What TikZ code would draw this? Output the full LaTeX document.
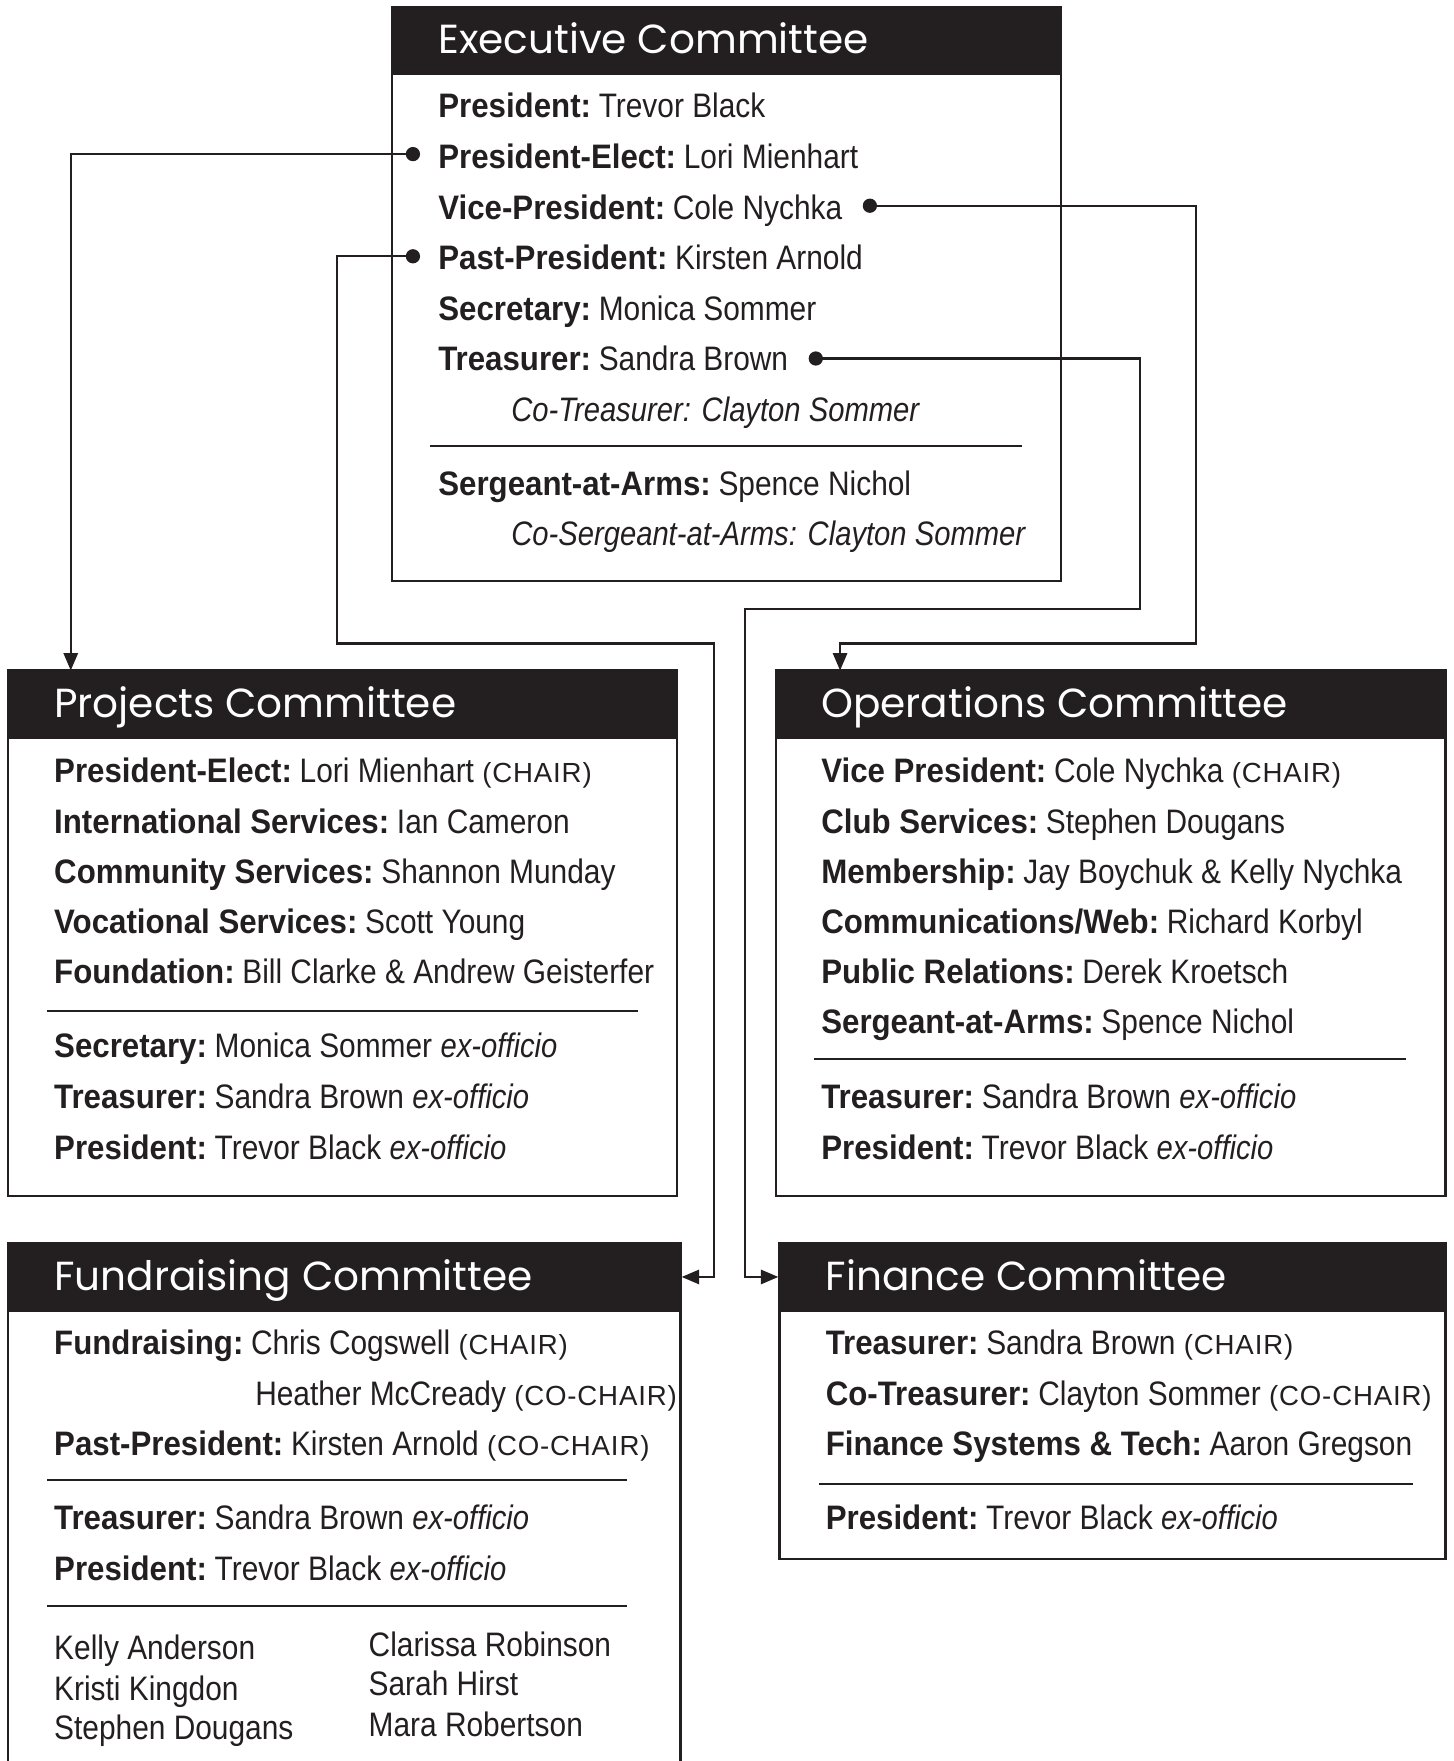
\documentclass[tikz,border=0pt]{standalone}
\usepackage{fontspec}
\setmainfont[FakeStretch=0.88, BoldFeatures={FakeStretch=0.92}, ItalicFeatures={FakeStretch=0.86}]{Liberation Sans}
\newfontfamily\headfont{Poppins}
\newfontfamily\capfont[LetterSpace=3]{Liberation Sans}
\usetikzlibrary{positioning, fit, arrows.meta}
\definecolor{ink}{RGB}{35,31,32}
\newcommand{\rl}[1]{\textbf{#1}\kern-0.1em\relax}
\newcommand{\chair}[1]{{\capfont\fontsize{17.5}{20}\selectfont(#1)}}
\newcommand{\exo}{\textit{ex-officio}}

\tikzset{
	panel/.style={draw=ink, line width=1.4pt, inner sep=0pt},
	headband/.style={fill=ink, draw=ink, line width=1.4pt, inner sep=0pt},
	boxtitle/.style={anchor=base west, inner sep=0pt, text=white, font=\headfont\fontsize{25.7}{30}\selectfont},
	member/.style={anchor=base west, inner sep=0pt, text=ink, font=\fontsize{21.5}{24}\selectfont},
	divider/.style={draw=ink, line width=1.4pt},
	conn/.style={draw=ink, line width=1.4pt, {Circle[length=9pt]}-{Triangle[length=11pt, width=9pt]}},
}

\begin{document}
\begin{tikzpicture}[x=0.025cm, y=-0.025cm]
	\useasboundingbox (0,0) rectangle (1294,1568);

	% Executive
	\node[panel, fit={(349,6) (945,517)}] (exec) {};
	\node[headband, fit={(349,6) (945,66)}] (exechead) {};
	\node[boxtitle] (exectitle) at (390,48) {Executive Committee};
	\foreach \n/\y/\t in {pres/105/{\rl{President:} Trevor Black},
		pe/150/{\rl{President-Elect:} Lori Mienhart},
		vp/195/{\rl{Vice-President:} Cole Nychka},
		pp/240/{\rl{Past-President:} Kirsten Arnold},
		sec/285/{\rl{Secretary:} Monica Sommer},
		tr/330/{\rl{Treasurer:} Sandra Brown},
		saa/441/{\rl{Sergeant-at-Arms:} Spence Nichol}}
		\node[member] (\n) at (390,\y) {\t};
	\node[member, font=\fontsize{21.5}{24}\selectfont\itshape] (cotr) at (455,375) {Co-Treasurer: Clayton Sommer};
	\node[member, font=\fontsize{21.5}{24}\selectfont\itshape] (cosaa) at (455,486) {Co-Sergeant-at-Arms: Clayton Sommer};
	\draw[divider] (383,397) -- (910,397);

	% Projects
	\node[panel, fit={(7,597) (603,1065)}] (proj) {};
	\node[headband, fit={(7,597) (603,657)}] (projhead) {};
	\node[boxtitle] (projtitle) at (48,639) {Projects Committee};
	\foreach \n/\y/\t in {pj1/697/{\rl{President-Elect:} Lori Mienhart \chair{CHAIR}},
		pj2/742/{\rl{International Services:} Ian Cameron},
		pj3/787/{\rl{Community Services:} Shannon Munday},
		pj4/831/{\rl{Vocational Services:} Scott Young},
		pj5/876/{\rl{Foundation:} Bill Clarke \& Andrew Geisterfer},
		pj6/942/{\rl{Secretary:} Monica Sommer \exo},
		pj7/987/{\rl{Treasurer:} Sandra Brown \exo},
		pj8/1032/{\rl{President:} Trevor Black \exo}}
		\node[member] (\n) at (48,\y) {\t};
	\draw[divider] (42,900) -- (568,900);

	% Operations
	\node[panel, fit={(691,597) (1287,1065)}] (ops) {};
	\node[headband, fit={(691,597) (1287,657)}] (opshead) {};
	\node[boxtitle] (opstitle) at (731,639) {Operations Committee};
	\foreach \n/\y/\t in {op1/697/{\rl{Vice President:} Cole Nychka \chair{CHAIR}},
		op2/742/{\rl{Club Services:} Stephen Dougans},
		op3/787/{\rl{Membership:} Jay Boychuk \& Kelly Nychka},
		op4/831/{\rl{Communications/Web:} Richard Korbyl},
		op5/876/{\rl{Public Relations:} Derek Kroetsch},
		op6/920/{\rl{Sergeant-at-Arms:} Spence Nichol},
		op7/987/{\rl{Treasurer:} Sandra Brown \exo},
		op8/1032/{\rl{President:} Trevor Black \exo}}
		\node[member] (\n) at (731,\y) {\t};
	\draw[divider] (725,943) -- (1252,943);

	% Fundraising
	\node[panel, fit={(7,1107) (606,1600)}] (fund) {};
	\node[headband, fit={(7,1107) (606,1167)}] (fundhead) {};
	\node[boxtitle] (fundtitle) at (48,1149) {Fundraising Committee};
	\foreach \n/\x/\y/\t in {fd1/48/1206/{\rl{Fundraising:} Chris Cogswell \chair{CHAIR}},
		fd2/227/1251/{Heather McCready \chair{CO-CHAIR}},
		fd3/48/1296/{\rl{Past-President:} Kirsten Arnold \chair{CO-CHAIR}},
		fd4/48/1362/{\rl{Treasurer:} Sandra Brown \exo},
		fd5/48/1407/{\rl{President:} Trevor Black \exo},
		fd6/48/1478/{Kelly Anderson},
		fd7/48/1514/{Kristi Kingdon},
		fd8/48/1549/{Stephen Dougans},
		fd9/328/1475/{Clarissa Robinson},
		fd10/328/1510/{Sarah Hirst},
		fd11/328/1546/{Mara Robertson}}
		\node[member] (\n) at (\x,\y) {\t};
	\draw[divider] (42,1318) -- (558,1318);
	\draw[divider] (42,1430) -- (558,1430);

	% Finance
	\node[panel, fit={(694,1107) (1287,1388)}] (fin) {};
	\node[headband, fit={(694,1107) (1287,1167)}] (finhead) {};
	\node[boxtitle] (fintitle) at (735,1149) {Finance Committee};
	\foreach \n/\y/\t in {fn1/1206/{\rl{Treasurer:} Sandra Brown \chair{CHAIR}},
		fn2/1251/{\rl{Co-Treasurer:} Clayton Sommer \chair{CO-CHAIR}},
		fn3/1296/{\rl{Finance Systems \& Tech:} Aaron Gregson},
		fn4/1362/{\rl{President:} Trevor Black \exo}}
		\node[member] (\n) at (735,\y) {\t};
	\draw[divider] (729,1321) -- (1258,1321);

	% links
	\coordinate (projin) at (63,597);
	\coordinate (opsin) at (748,597);
	\draw[conn] ([shift={(-16,-2)}]pe.west) -| (projin);
	\draw[conn] ([shift={(18,-4)}]vp.east) -| (1065,573) -| (opsin);
	\draw[conn] ([shift={(-16,-1)}]pp.west) -| (300,573) -| (636,1137) -- (fundhead.east);
	\draw[conn] ([shift={(18,0)}]tr.east) -| (1015,542) -| (663,1137) -- (finhead.west);
\end{tikzpicture}
\end{document}
